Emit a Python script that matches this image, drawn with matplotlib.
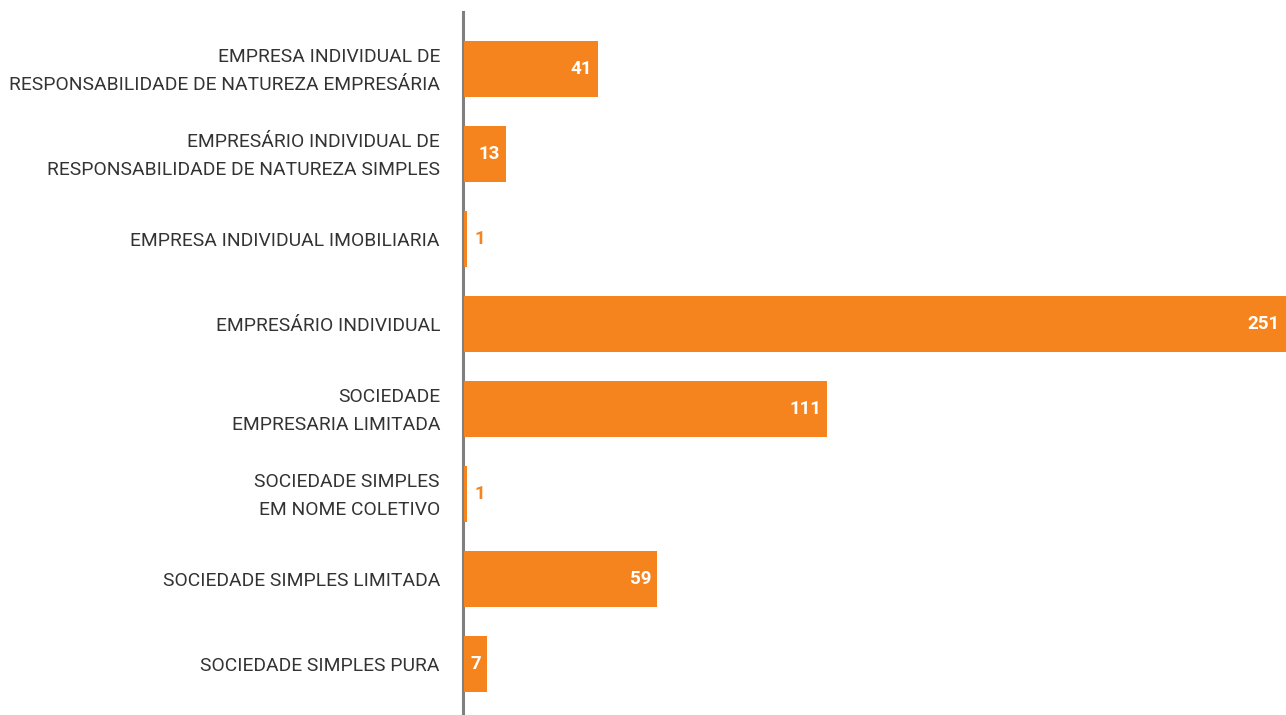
import matplotlib
matplotlib.use("Agg")
import matplotlib.pyplot as plt
import matplotlib.transforms as mtransforms

categories = [
    "EMPRESA INDIVIDUAL DE\nRESPONSABILIDADE DE NATUREZA EMPRESÁRIA",
    "EMPRESÁRIO INDIVIDUAL DE\nRESPONSABILIDADE DE NATUREZA SIMPLES",
    "EMPRESA INDIVIDUAL IMOBILIARIA",
    "EMPRESÁRIO INDIVIDUAL",
    "SOCIEDADE\nEMPRESARIA LIMITADA",
    "SOCIEDADE SIMPLES\nEM NOME COLETIVO",
    "SOCIEDADE SIMPLES LIMITADA",
    "SOCIEDADE SIMPLES PURA",
]
values = [41, 13, 1, 251, 111, 1, 59, 7]

ORANGE = "#F5841F"
FONT = ["Roboto", "DejaVu Sans"]

fig = plt.figure(figsize=(12.86, 7.15), dpi=100)
ax = fig.add_axes([463 / 1286, 0.0, 1 - 463 / 1286, (715 - 12) / 715])

ypos = list(range(len(values)))
ax.barh(ypos, values, height=0.66, left=0.25, color=ORANGE, zorder=3)
ax.set_xlim(0, 251.25)
ax.set_ylim(7.6, -0.67)

for y, v in zip(ypos, values):
    if v >= 5:
        ax.text(v - 1.6, y, str(v), ha="right", va="center", color="white",
                fontsize=13.5, fontweight="bold", family=FONT, zorder=4)
    else:
        ax.text(v + 2.6, y, str(v), ha="left", va="center", color=ORANGE,
                fontsize=13.5, fontweight="bold", family=FONT, zorder=4)

# category labels
trans = mtransforms.blended_transform_factory(ax.transAxes, ax.transData)
for y, lab in zip(ypos, categories):
    ax.text(-23 / 823, y + 0.025, lab, transform=trans, family=FONT,
            fontsize=13.9, color="#333333", ha="right", va="center",
            multialignment="right", linespacing=1.75, clip_on=False)

ax.set_yticks([])
ax.set_xticks([])
for s in ["top", "right", "bottom"]:
    ax.spines[s].set_visible(False)
ax.spines["left"].set_color("#808080")
ax.spines["left"].set_linewidth(2.2)
ax.spines["left"].set_zorder(2)

fig.savefig("out.png", dpi=100)
